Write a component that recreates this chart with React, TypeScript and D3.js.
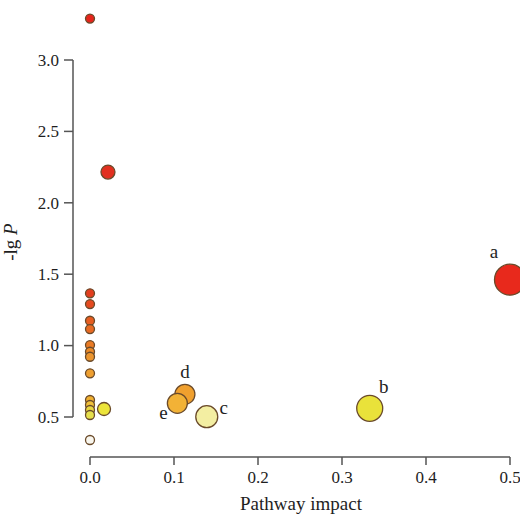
import React from "react";
import * as d3 from "d3";

const impacts = [0, 0.0214, 0.5, 0, 0, 0, 0, 0, 0, 0, 0, 0, 0, 0, 0, 0, 0.0167, 0.113, 0.104, 0.139, 0.333];
const logP = [3.29, 2.215, 1.462, 1.366, 1.291, 1.174, 1.116, 1.004, 0.957, 0.922, 0.806, 0.619, 0.584, 0.549, 0.514, 0.339, 0.556, 0.659, 0.596, 0.502, 0.561];
const radii = [4.5, 7, 15.5, 4.5, 4.5, 4.5, 4.5, 4.5, 4.5, 4.5, 4.5, 4.5, 4.5, 4.5, 4.5, 4.5, 6.5, 10, 10, 11, 13];
const fills = ["#e5241b", "#e2301f", "#e8291c", "#e23e1e", "#e44a1f", "#e65d20", "#e86a22", "#e97a24", "#eb8a28", "#ec952e", "#ee9f30", "#f0b030", "#f0c03a", "#e9d640", "#e6df4c", "#f8f6ee", "#ece43a", "#f0a02e", "#f2b236", "#f3eea2", "#e9e23a"];
const labels = ["", "", "a", "", "", "", "", "", "", "", "", "", "", "", "", "", "", "d", "e", "c", "b"];
const labelDx = [0, 0, -16, 0, 0, 0, 0, 0, 0, 0, 0, 0, 0, 0, 0, 0, 0, 0, -14, 17, 14];
const labelDy = [0, 0, -22, 0, 0, 0, 0, 0, 0, 0, 0, 0, 0, 0, 0, 0, 0, -16, 16, -3, -15];
const xTicks = [0, 0.1, 0.2, 0.3, 0.4, 0.5];
const yTicks = [0.5, 1.0, 1.5, 2.0, 2.5, 3.0];

export default function App() {
  const W = 520, H = 517;
  const x = d3.scaleLinear().domain([0, 0.5]).range([90, 510]);
  const y = d3.scaleLinear().domain([0.5, 3.0]).range([417, 60]);
  const axisY = 457;
  const axisX = 73;
  const font = "'Liberation Serif', 'Times New Roman', serif";
  const axisColor = "#555";
  const textColor = "#1e1e1e";
  const idx = d3.range(impacts.length);
  return (
    <svg width={W} height={H} style={{ position: "absolute", left: 0, top: 0, background: "#fff" }} fontFamily={font}>
      {/* y axis */}
      <line x1={axisX} x2={axisX} y1={y(3.0)} y2={y(0.5)} stroke={axisColor} strokeWidth={1.5} />
      {yTicks.map((t) => (
        <g key={"y" + t}>
          <line x1={axisX - 9} x2={axisX} y1={y(t)} y2={y(t)} stroke={axisColor} strokeWidth={1.5} />
          <text x={axisX - 14} y={y(t)} dy="0.34em" textAnchor="end" fontSize={17} fill={textColor}>
            {d3.format(".1f")(t)}
          </text>
        </g>
      ))}
      {/* x axis */}
      <line x1={x(0)} x2={x(0.5)} y1={axisY} y2={axisY} stroke={axisColor} strokeWidth={1.5} />
      {xTicks.map((t) => (
        <g key={"x" + t}>
          <line x1={x(t)} x2={x(t)} y1={axisY} y2={axisY + 8} stroke={axisColor} strokeWidth={1.5} />
          <text x={x(t)} y={483} textAnchor="middle" fontSize={17} fill={textColor}>
            {d3.format(".1f")(t)}
          </text>
        </g>
      ))}
      <text x={301} y={510} textAnchor="middle" fontSize={19} fill={textColor}>Pathway impact</text>
      <text transform={`translate(17,242) rotate(-90)`} textAnchor="middle" fontSize={19} fill={textColor}>
        -lg <tspan fontStyle="italic">P</tspan>
      </text>
      {/* points */}
      {idx.map((i) => (
        <circle key={"c" + i} cx={x(impacts[i])} cy={y(logP[i])} r={radii[i]} fill={fills[i]} stroke="#6a4a2a" strokeWidth={1.3} />
      ))}
      {idx.filter((i) => labels[i]).map((i) => (
        <text key={"l" + i} x={x(impacts[i]) + labelDx[i]} y={y(logP[i]) + labelDy[i]} textAnchor="middle" fontSize={19} fill="#1e1e1e">
          {labels[i]}
        </text>
      ))}
    </svg>
  );
}
